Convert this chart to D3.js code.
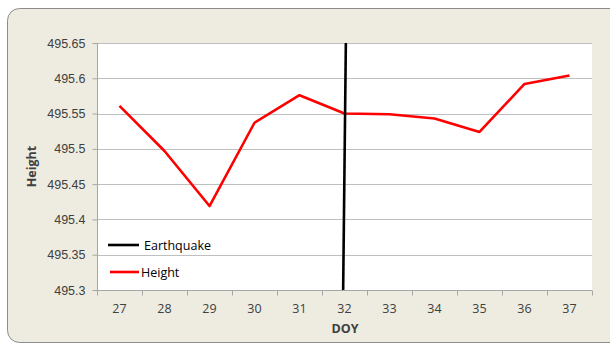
<!DOCTYPE html>
<html>
<head>
<meta charset="utf-8">
<script src="https://cdn.jsdelivr.net/npm/d3@7"></script>
<style>
  html, body { margin: 0; padding: 0; background: #fff; overflow: hidden; }
  svg { display: block; font-family: "Open Sans", "Liberation Sans", sans-serif; }
</style>
</head>
<body>
<svg id="chart" width="610" height="345"></svg>
<script>
// Day of year and measured station height
const doy = [27, 28, 29, 30, 31, 32, 33, 34, 35, 36, 37];
const height = [495.561, 495.497, 495.419, 495.537, 495.576, 495.550, 495.549, 495.543, 495.524, 495.592, 495.604];

// Earthquake marker: endpoints of the line drawn across the plot
const quakeDoy = [32.03, 31.97];
const quakeHeight = [495.65, 495.30];

const yTicks = [495.3, 495.35, 495.4, 495.45, 495.5, 495.55, 495.6, 495.65];
const xTickLabels = ["27", "28", "29", "30", "31", "32", "33", "34", "35", "36", "37"];

const svg = d3.select("#chart");
const plot = { left: 97, right: 592, top: 43, bottom: 290 };

// Outer chart frame (runs past the right edge of the view)
svg.append("rect")
  .attr("x", 7.5).attr("y", 8.5).attr("width", 620).attr("height", 334)
  .attr("rx", 12).attr("ry", 12)
  .attr("fill", "#EEECE1").attr("stroke", "#8C8C8C").attr("stroke-width", 1);

// Plot area
svg.append("rect")
  .attr("x", plot.left).attr("y", plot.top)
  .attr("width", plot.right - plot.left).attr("height", plot.bottom - plot.top)
  .attr("fill", "#fff");

// Categories sit in the middle of equal bands
const band = d3.scaleBand().domain(doy).range([plot.left, plot.right]).padding(0);
const x = d3.scaleLinear()
  .domain([doy[0] - 0.5, doy[doy.length - 1] + 0.5])
  .range([plot.left, plot.right]);
const y = d3.scaleLinear().domain([495.3, 495.65]).range([plot.bottom, plot.top]);

// Horizontal gridlines
svg.append("g").selectAll("line")
  .data(yTicks.slice(1))
  .join("line")
  .attr("x1", plot.left).attr("x2", plot.right)
  .attr("y1", d => Math.round(y(d)) + 0.5).attr("y2", d => Math.round(y(d)) + 0.5)
  .attr("stroke", "#BFBFBF").attr("stroke-width", 1.2);

// Y axis
const yAxis = svg.append("g")
  .attr("transform", `translate(${plot.left + 0.5},0)`)
  .call(d3.axisLeft(y).tickValues(yTicks).tickSize(5).tickPadding(7)
    .tickFormat(d => String(+d.toFixed(2))));
yAxis.select(".domain").attr("stroke", "#A6A6A6").attr("d", `M0,${plot.top}V${plot.bottom}`);
yAxis.selectAll(".tick line").attr("stroke", "#A6A6A6");
yAxis.selectAll(".tick text").attr("fill", "#404040").attr("font-size", 12.5);

// X axis: ticks between categories, labels at category centres
const xAxisG = svg.append("g").attr("transform", `translate(0,${plot.bottom + 0.5})`);
xAxisG.append("line")
  .attr("x1", plot.left).attr("x2", plot.right)
  .attr("stroke", "#A6A6A6");
xAxisG.selectAll("line.tk")
  .data(d3.range(doy.length + 1))
  .join("line").attr("class", "tk")
  .attr("x1", i => Math.round(x(doy[0] - 0.5 + i)) + 0.5)
  .attr("x2", i => Math.round(x(doy[0] - 0.5 + i)) + 0.5)
  .attr("y1", 0).attr("y2", 5)
  .attr("stroke", "#A6A6A6");
xAxisG.selectAll("text")
  .data(xTickLabels)
  .join("text")
  .attr("x", (d, i) => band(doy[i]) + band.bandwidth() / 2)
  .attr("y", 22)
  .attr("text-anchor", "middle")
  .attr("fill", "#404040").attr("font-size", 12.5)
  .text(d => d);

// Axis titles
svg.append("text")
  .attr("x", 345).attr("y", 333)
  .attr("text-anchor", "middle").attr("font-weight", "bold")
  .attr("font-size", 12.5).attr("fill", "#404040")
  .text("DOY");
svg.append("text")
  .attr("transform", `translate(36,${(plot.top + plot.bottom) / 2}) rotate(-90)`)
  .attr("text-anchor", "middle").attr("font-weight", "bold")
  .attr("font-size", 12.5).attr("fill", "#404040")
  .text("Height");

// Height series
const line = d3.line().x(d => x(d[0])).y(d => y(d[1]));
svg.append("path")
  .datum(doy.map((d, i) => [d, height[i]]))
  .attr("d", line)
  .attr("fill", "none").attr("stroke", "#FF0000").attr("stroke-width", 2.6)
  .attr("stroke-linejoin", "round");

// Earthquake marker
svg.append("path")
  .datum(quakeDoy.map((d, i) => [d, quakeHeight[i]]))
  .attr("d", line)
  .attr("fill", "none").attr("stroke", "#000").attr("stroke-width", 2.6);

// Legend
const legend = svg.append("g");
const items = [
  { label: "Earthquake", color: "#000", y: 245, x0: 108, tx: 144 },
  { label: "Height", color: "#FF0000", y: 272, x0: 110, tx: 141 }
];
items.forEach(it => {
  legend.append("line")
    .attr("x1", it.x0).attr("x2", 139).attr("y1", it.y).attr("y2", it.y)
    .attr("stroke", it.color).attr("stroke-width", 2.6);
  legend.append("text")
    .attr("x", it.tx).attr("y", it.y + 4.5)
    .attr("fill", "#000").attr("font-size", 12.5)
    .text(it.label);
});
</script>
</body>
</html>
